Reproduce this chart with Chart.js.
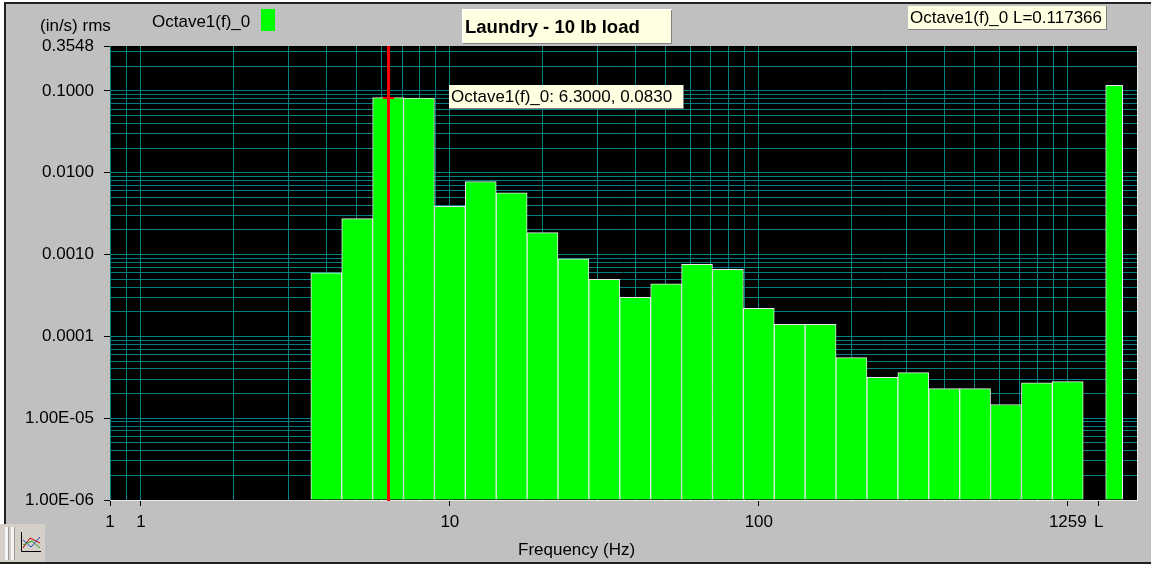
<!DOCTYPE html>
<html>
<head>
<meta charset="utf-8">
<script src="https://cdn.jsdelivr.net/npm/chart.js@4.4.1/dist/chart.umd.min.js"></script>
<style>
  html, body { margin: 0; padding: 0; background: #fff; }
  canvas { display: block; }
</style>
</head>
<body>
<canvas id="octaveChart" width="1151" height="564"></canvas>
<script>
// 1/3 octave band centres (Hz)
let bandFreqs = [3.981, 5.012, 6.310, 7.943, 10.00, 12.59, 15.85, 19.95, 25.12, 31.62, 39.81, 50.12, 63.10,
  79.43, 100.0, 125.9, 158.5, 199.5, 251.2, 316.2, 398.1, 501.2, 631.0, 794.3, 1000];

// rms velocity in each band (in/s)
let bandValues = [0.00060, 0.00275, 0.0830, 0.0820, 0.0039, 0.0078, 0.0057, 0.00186, 0.00089, 0.00050, 0.00030,
  0.00044, 0.00076, 0.00066, 0.00022, 0.00014, 0.00014, 0.000055, 0.0000315, 0.000036, 0.000023, 0.000023,
  0.0000147, 0.000027, 0.000028];

// overall level bar ("L")
let levelFreq = [1413];
let levelValue = [0.117366];

// cursor position
let cursorFreq = 6.3;
let cursorValue = 0.0830;

// labelled ticks
let xTickValues = [0.7943, 1, 10, 100, 1000, 1259];
let xTickLabels = ["1", "1", "10", "100", "1259", "L"];
let yTickValues = [0.000001, 0.00001, 0.0001, 0.001, 0.01, 0.1, 0.3548];
let yTickLabels = ["1.00E-06", "1.00E-05", "0.0001", "0.0010", "0.0100", "0.1000", "0.3548"];

// minor grid lines (2..9 of each decade)
let minorSteps = [2, 3, 4, 5, 6, 7, 8, 9];
let xDecades = [1, 10, 100];
let yDecades = [0.000001, 0.00001, 0.0001, 0.001, 0.01, 0.1];

let xMin = 0.7943, xMax = 1675;
let yMin = 0.000001, yMax = 0.3548;

let teal = "#008080";
let cream = "#ffffe1";
let panelGray = "#c0c0c0";

function isNear(a, b) {
  return Math.abs(Math.log10(a) - Math.log10(b)) < 0.001;
}
function labelIndex(list, v) {
  for (let i = 0; i < list.length; i++) {
    if (isNear(list[i], v)) return i;
  }
  return -1;
}

// build the full tick lists (labelled + grid only)
let xAllTicks = xTickValues.slice();
xAllTicks.push(0.9);
xDecades.forEach(d => minorSteps.forEach(m => xAllTicks.push(d * m)));
xAllTicks.sort((a, b) => a - b);

let yAllTicks = yTickValues.slice();
yDecades.forEach(d => minorSteps.forEach(m => {
  if (d * m < yMax) yAllTicks.push(d * m);
}));
yAllTicks.sort((a, b) => a - b);

// a small box with a dark shadow
function drawBox(ctx, x, y, w, h, text, font) {
  ctx.fillStyle = cream;
  ctx.fillRect(x, y, w, h);
  ctx.fillStyle = "#808080";
  ctx.fillRect(x + w, y, 1, h + 1);
  ctx.fillRect(x, y + h, w + 1, 1);
  ctx.fillStyle = "#000";
  ctx.font = font;
  ctx.textAlign = "left";
  ctx.textBaseline = "middle";
  ctx.fillText(text, x + 2, y + h / 2 + 1);
}

// one third of an octave in pixels on the x scale
function bandWidth(chart) {
  let x = chart.scales.x;
  return x.getPixelForValue(bandFreqs[1]) - x.getPixelForValue(bandFreqs[0]);
}

let panelPlugin = {
  id: "panel",
  beforeDraw(chart) {
    let ctx = chart.ctx;
    let area = chart.chartArea;
    ctx.save();
    ctx.fillStyle = "#fff";
    ctx.fillRect(0, 0, chart.width, chart.height);
    ctx.fillStyle = panelGray;
    ctx.fillRect(4, 2, chart.width - 4, chart.height - 4);
    // dark frame
    ctx.fillStyle = "#202020";
    ctx.fillRect(4, 2, chart.width - 4, 2);
    ctx.fillRect(4, 2, 2, 522);
    ctx.fillRect(0, 562, chart.width, 2);
    // black plot area
    ctx.fillStyle = "#000";
    ctx.fillRect(area.left, area.top, area.right - area.left, area.bottom - area.top);
    ctx.restore();
  },
  afterDatasetsDraw(chart) {
    let ctx = chart.ctx;
    let area = chart.chartArea;
    let x = chart.scales.x;
    let y = chart.scales.y;
    ctx.save();
    // light border right and bottom
    ctx.fillStyle = "#e8e8e8";
    ctx.fillRect(area.right, area.top, 1, area.bottom - area.top + 1);
    ctx.fillRect(area.left, area.bottom, area.right - area.left + 1, 1);
    // red cursor
    let cx = Math.round(x.getPixelForValue(cursorFreq));
    let cy = Math.round(y.getPixelForValue(cursorValue));
    ctx.fillStyle = "#ff0000";
    ctx.fillRect(cx - 1, area.top, 3, area.bottom - area.top + 1);
    ctx.fillRect(cx - 5, cy - 1, 11, 2);
    ctx.restore();
  },
  afterDraw(chart) {
    let ctx = chart.ctx;
    let font = '17px "Liberation Sans", Arial, sans-serif';
    ctx.save();
    ctx.fillStyle = "#000";
    ctx.font = font;
    ctx.textAlign = "left";
    ctx.textBaseline = "middle";
    ctx.fillText("(in/s) rms", 40, 26);
    ctx.fillText("Octave1(f)_0", 152, 22);
    ctx.fillText("Frequency (Hz)", 518, 550);
    ctx.fillStyle = "#00ff00";
    ctx.fillRect(261, 9, 14, 22);

    // title box
    ctx.fillStyle = "#fff";
    ctx.fillRect(462, 9, 210, 1);
    ctx.fillRect(462, 9, 1, 34);
    drawBox(ctx, 463, 10, 208, 33, "Laundry - 10 lb load", 'bold 18.5px "Liberation Sans", Arial, sans-serif');
    // cursor read-out and level read-out
    drawBox(ctx, 449, 85, 234, 23, "Octave1(f)_0: " + cursorFreq.toFixed(4) + ", " + cursorValue.toFixed(4), font);
    drawBox(ctx, 908, 6, 198, 23, "Octave1(f)_0 L=" + levelValue[0].toFixed(6), font);

    // little chart button bottom left
    ctx.fillStyle = "#d4d0c8";
    ctx.fillRect(0, 524, 45, 38);
    ctx.fillStyle = "#f4f4f4";
    ctx.fillRect(5, 527, 3, 33);
    ctx.fillRect(11, 527, 3, 33);
    ctx.fillStyle = "#9a9a9a";
    ctx.fillRect(8, 527, 1, 33);
    ctx.fillRect(14, 527, 1, 33);
    ctx.strokeStyle = "#000";
    ctx.lineWidth = 1;
    ctx.beginPath();
    ctx.moveTo(21.5, 532);
    ctx.lineTo(21.5, 551.5);
    ctx.lineTo(41, 551.5);
    ctx.stroke();
    let curves = [["#c00000", [[23, 548], [30, 538], [40, 543]]],
      ["#2040c0", [[23, 540], [31, 547], [40, 537]]],
      ["#20a020", [[23, 545], [32, 541], [40, 548]]]];
    curves.forEach(c => {
      ctx.strokeStyle = c[0];
      ctx.beginPath();
      c[1].forEach((p, i) => i ? ctx.lineTo(p[0], p[1]) : ctx.moveTo(p[0], p[1]));
      ctx.stroke();
    });
    ctx.restore();
  }
};

function initOctaveChart() {
  let canvas = document.getElementById("octaveChart");
  if (!canvas) {
    return;
  }
  Chart.defaults.font.family = '"Liberation Sans", Arial, sans-serif';
  Chart.defaults.font.size = 17;
  Chart.defaults.color = "#000";

  let ctx = canvas.getContext("2d");
  let chart = new Chart(ctx, {
    type: "bar",
    data: {
      datasets: [{
        label: "Octave1(f)_0",
        data: bandFreqs.map((f, i) => ({ x: f, y: bandValues[i] })),
        backgroundColor: "#00ff00",
        borderColor: "#e8e8e8",
        borderWidth: 1,
        barThickness: (c) => bandWidth(c.chart),
        grouped: false,
        base: yMin
      }, {
        label: "L",
        data: levelFreq.map((f, i) => ({ x: f, y: levelValue[i] })),
        backgroundColor: "#00ff00",
        borderColor: "#e8e8e8",
        borderWidth: 1,
        barThickness: 17,
        grouped: false,
        base: yMin
      }]
    },
    options: {
      responsive: false,
      animation: false,
      devicePixelRatio: 1,
      layout: {
        padding: { left: 0, top: 46, right: 14, bottom: 0 }
      },
      plugins: {
        legend: { display: false },
        tooltip: { enabled: false }
      },
      scales: {
        x: {
          type: "logarithmic",
          min: xMin,
          max: xMax,
          bounds: "data",
          offset: false,
          border: { display: false },
          grid: {
            offset: false,
            drawTicks: true,
            tickLength: 6,
            lineWidth: 1,
            color: (c) => {
              if (!c.tick) return teal;
              return isNear(c.tick.value, 1259) ? "rgba(0,0,0,0)" : teal;
            },
            tickColor: (c) => {
              if (!c.tick) return "rgba(0,0,0,0)";
              return labelIndex(xTickValues, c.tick.value) >= 0 ? "#000" : "rgba(0,0,0,0)";
            }
          },
          ticks: {
            autoSkip: false,
            maxRotation: 0,
            padding: 6,
            callback: (value) => {
              let i = labelIndex(xTickValues, value);
              return i >= 0 ? xTickLabels[i] : "";
            }
          },
          afterBuildTicks: (scale) => {
            scale.ticks = xAllTicks.map(v => ({ value: v }));
          },
          afterFit: (scale) => {
            scale.height = 64;
          }
        },
        y: {
          type: "logarithmic",
          min: yMin,
          max: yMax,
          bounds: "data",
          border: { display: false },
          grid: {
            drawTicks: true,
            tickLength: 6,
            lineWidth: 1,
            color: (c) => {
              if (!c.tick) return teal;
              return isNear(c.tick.value, yMax) ? "rgba(0,0,0,0)" : teal;
            },
            tickColor: (c) => {
              if (!c.tick) return "rgba(0,0,0,0)";
              return labelIndex(yTickValues, c.tick.value) >= 0 ? "#000" : "rgba(0,0,0,0)";
            }
          },
          ticks: {
            autoSkip: false,
            padding: 10,
            callback: (value) => {
              let i = labelIndex(yTickValues, value);
              return i >= 0 ? yTickLabels[i] : "";
            }
          },
          afterBuildTicks: (scale) => {
            scale.ticks = yAllTicks.map(v => ({ value: v }));
          },
          afterFit: (scale) => {
            scale.width = 110;
          }
        }
      }
    },
    plugins: [panelPlugin]
  });
}

initOctaveChart();
</script>
</body>
</html>
